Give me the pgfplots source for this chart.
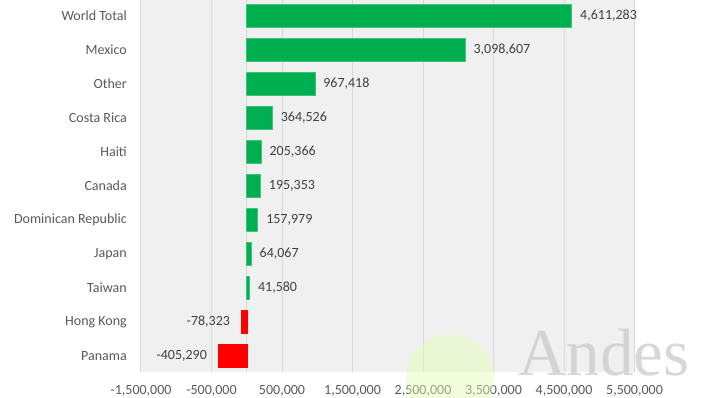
\documentclass[border=0pt]{standalone}
\usepackage{pgfplots}
\pgfplotsset{compat=1.18}
\usepackage{fontspec}
\setmainfont{Carlito}
\newfontfamily\wmfont{Liberation Serif}
\definecolor{barGreen}{HTML}{00B050}
\definecolor{barGreenEdge}{HTML}{3CC47A}
\definecolor{barRed}{HTML}{FF0000}
\definecolor{plotBg}{HTML}{F0F0F0}
\definecolor{gridGray}{HTML}{D9D9D9}
\definecolor{tickText}{HTML}{595959}
\definecolor{labelText}{HTML}{404040}
\begin{document}
\begin{tikzpicture}
\begin{axis}[
  at={(0,0)}, anchor=south west,
  scale only axis,
  width=493.5bp, height=374bp,
  xbar, bar width=0.676, bar shift=0pt,
  xmin=-1500000, xmax=5500000,
  ymin=-0.47, ymax=10.53,
  xtick={-1500000,-500000,500000,1500000,2500000,3500000,4500000,5500000},
  scaled x ticks=false,
  ytick={0,1,2,3,4,5,6,7,8,9,10},
  yticklabels={Panama,Hong Kong,Taiwan,Japan,Dominican Republic,Canada,Haiti,Costa Rica,Other,Mexico,World Total},
  major tick length=0pt,
  tick label style={font=\fontsize{14bp}{17bp}\selectfont, text=tickText},
  yticklabel style={inner sep=0pt, anchor=east, xshift=-14bp},
  xticklabel style={inner sep=0pt, anchor=center, yshift=-19bp,
    /pgf/number format/fixed, /pgf/number format/precision=0,
    /pgf/number format/1000 sep={,}, /pgf/number format/assume math mode=true},
  xmajorgrids=true,
  major grid style={draw=gridGray, line width=1bp},
  extra x ticks={0},
  extra x tick labels={},
  extra x tick style={grid=major, major grid style={draw=gridGray, line width=1bp}},
  axis line style={draw=none},
  axis background/.style={fill=plotBg},
  point meta=explicit symbolic,
  nodes near coords,
  nodes near coords style={font=\fontsize{14bp}{17bp}\selectfont, text=labelText, inner sep=0pt},
  clip=false,
]
\addplot[fill=barGreen, draw=barGreenEdge, line width=0.8bp,
  nodes near coords style={anchor=west, xshift=8bp}]
  coordinates {
  (41580,2) [41,580]
  (64067,3) [64,067]
  (157979,4) [157,979]
  (195353,5) [195,353]
  (205366,6) [205,366]
  (364526,7) [364,526]
  (967418,8) [967,418]
  (3098607,9) [3,098,607]
  (4611283,10) [4,611,283]
  };
\addplot[fill=barRed, draw=barRed, line width=0.5bp,
  nodes near coords style={anchor=east, xshift=-11bp}]
  coordinates {
  (-405290,0) [-405,290]
  (-78323,1) [-78,323]
  };
\end{axis}
% faint watermark
\fill[green!35!yellow!30!white, opacity=0.45] (309bp,-6bp) circle (44bp);
\node[anchor=base west, inner sep=0pt, text=black!22, text opacity=0.7,
  font=\wmfont\fontsize{67bp}{70bp}\selectfont] at (377bp,-3bp) {Andes};
\pgfresetboundingbox
\useasboundingbox (-141bp,-26bp) rectangle (563bp,372bp);
\end{tikzpicture}
\end{document}
